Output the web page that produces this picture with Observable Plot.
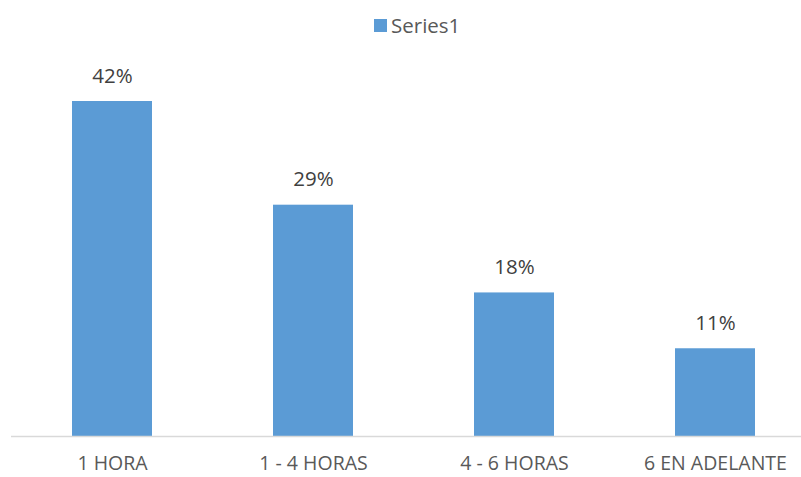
<!DOCTYPE html>
<html>
<head>
<meta charset="utf-8">
<script src="https://cdn.jsdelivr.net/npm/d3@7"></script>
<script src="https://cdn.jsdelivr.net/npm/@observablehq/plot@0.6"></script>
<style>
  html, body { margin: 0; padding: 0; background: #fff; }
  body { width: 801px; height: 477px; overflow: hidden; font-family: "Open Sans", sans-serif; }
  #legend { position: relative; height: 30px; }
  #legend .sw { position: absolute; left: 374px; top: 19px; width: 13px; height: 13px; background: #5B9BD5; }
  #legend .lb { position: absolute; left: 391px; top: 12px; font-size: 20.5px; line-height: 26px; color: #595959; }
  #chart svg { display: block; }
</style>
</head>
<body>
<div id="legend"><span class="sw"></span><span class="lb">Series1</span></div>
<div id="chart"></div>
<script>
const categories = ["1 HORA", "1 - 4 HORAS", "4 - 6 HORAS", "6 EN ADELANTE"];
const values = [42, 29, 18, 11];
const seriesName = "Series1";

const data = categories.map((c, i) => ({category: c, value: values[i], series: seriesName}));

const chart = Plot.plot({
  width: 801,
  height: 447,
  marginLeft: 11,
  marginRight: 0,
  marginTop: 0,
  marginBottom: 41,
  style: {fontFamily: "Open Sans, sans-serif", background: "#fff"},
  x: {domain: categories, range: [10.75, 816.75], paddingInner: 0.6, paddingOuter: 0.3, label: null},
  y: {domain: [0, 42], range: [406, 71], axis: null},
  marks: [
    Plot.barY(data, {x: "category", y: "value", fill: "#5B9BD5"}),
    Plot.ruleY([0], {stroke: "#D9D9D9", strokeWidth: 1.3}),
    Plot.text(data, {x: "category", y: "value", text: d => d.value + "%", dy: -25.5, lineAnchor: "middle", fontSize: 20.5, fill: "#404040"}),
    Plot.axisX({tickSize: 0, tickPadding: 20, fontSize: 19.5, color: "#595959", label: null})
  ]
});
document.getElementById("chart").appendChild(chart);
</script>
</body>
</html>
